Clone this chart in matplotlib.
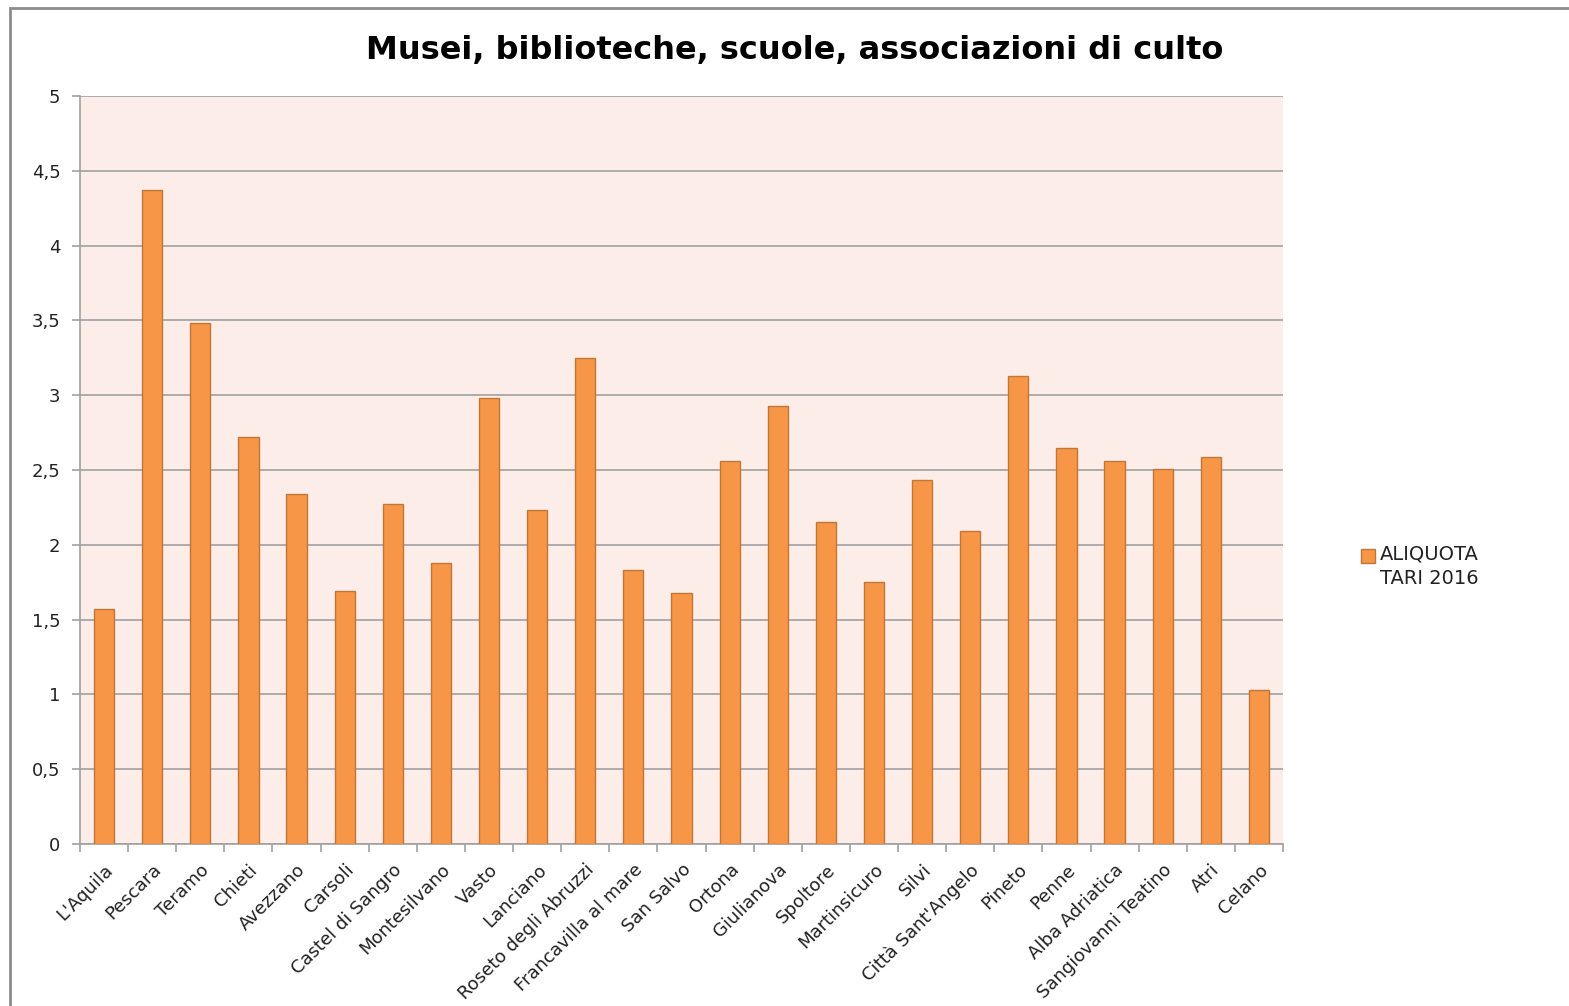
import matplotlib
matplotlib.use("Agg")
import matplotlib.pyplot as plt
import matplotlib.patches as mpatches
import numpy as np

categories = ["L'Aquila", "Pescara", "Teramo", "Chieti", "Avezzano", "Carsoli",
              "Castel di Sangro", "Montesilvano", "Vasto", "Lanciano",
              "Roseto degli Abruzzi", "Francavilla al mare", "San Salvo", "Ortona",
              "Giulianova", "Spoltore", "Martinsicuro", "Silvi", "Città Sant'Angelo",
              "Pineto", "Penne", "Alba Adriatica", "Sangiovanni Teatino", "Atri", "Celano"]
values = [1.57, 4.37, 3.48, 2.72, 2.34, 1.69, 2.27, 1.88, 2.98, 2.23,
          3.25, 1.83, 1.68, 2.56, 2.93, 2.15, 1.75, 2.43, 2.09,
          3.13, 2.65, 2.56, 2.51, 2.59, 1.03]
yticks = [0, 0.5, 1, 1.5, 2, 2.5, 3, 3.5, 4, 4.5, 5]
ytick_labels = ["0", "0,5", "1", "1,5", "2", "2,5", "3", "3,5", "4", "4,5", "5"]
title = "Musei, biblioteche, scuole, associazioni di culto"
series_name = "ALIQUOTA\nTARI 2016"

BAR_COLOR = "#f79646"
BAR_EDGE = "#c0773a"

plt.rcParams['font.family'] = ['DejaVu Sans']

W, H = 1569, 1006
fig = plt.figure(figsize=(W / 100, H / 100), dpi=100)
fig.patch.set_facecolor("white")

# outer chart border
fig.add_artist(mpatches.Rectangle((10 / W, -0.1), 1.2, (H - 8) / H + 0.1,
                                  transform=fig.transFigure, fill=False,
                                  edgecolor="#8c8c8c", linewidth=2))

ax = fig.add_axes([80 / W, (H - 844) / H, (1283 - 80) / W, (844 - 96) / H])
ax.set_facecolor("#fcede9")

x = np.arange(len(categories))
bars = ax.bar(x, values, width=0.42, color=BAR_COLOR, edgecolor=BAR_EDGE,
              linewidth=1, zorder=3)

ax.set_xlim(-0.5, len(categories) - 0.5)
ax.set_ylim(0, 5)
ax.set_yticks(yticks)
ax.set_yticklabels(ytick_labels, fontsize=13, color="#222222")
ax.yaxis.grid(True, color="#a0a0a0", linewidth=1.2, zorder=0)
ax.set_axisbelow(True)

ax.set_xticks(x)
ax.set_xticklabels(categories, rotation=45, ha="right", rotation_mode="anchor",
                   fontsize=13, color="#222222")
ax.tick_params(axis="x", length=0, pad=12)
ax.set_xticks(np.arange(-0.5, len(categories), 1), minor=True)
ax.tick_params(axis="x", which="minor", length=6, color="#a0a0a0", width=1.2)
ax.tick_params(axis="y", length=6, color="#a0a0a0", width=1.2, pad=8)

for side in ["top", "right"]:
    ax.spines[side].set_visible(False)
ax.spines["left"].set_color("#a0a0a0")
ax.spines["left"].set_linewidth(1.2)
ax.spines["bottom"].set_color("#a0a0a0")
ax.spines["bottom"].set_linewidth(1.2)

fig.text(795 / W, 1 - 50 / H, title, ha="center", va="center",
         fontsize=23, fontweight="bold", color="#000000")

# legend (handle aligned with first text line, as in the reference)
fig.add_artist(mpatches.Rectangle((1361 / W, 1 - 563 / H), 14 / W, 14 / H,
                                  transform=fig.transFigure,
                                  facecolor=BAR_COLOR, edgecolor=BAR_EDGE,
                                  linewidth=1))
fig.text(1380 / W, 1 - 545 / H, series_name, ha="left", va="top",
         fontsize=14, color="#222222", linespacing=1.35)

fig.savefig("out.png", dpi=100, facecolor="white")
